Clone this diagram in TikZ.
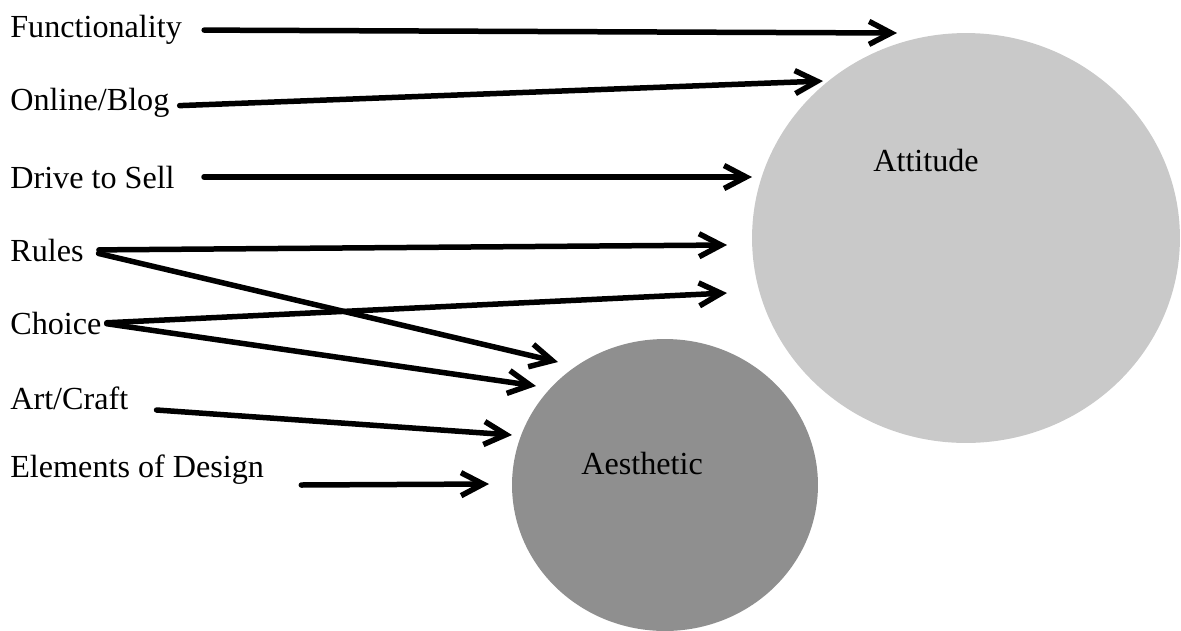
\documentclass[tikz,border=0pt]{standalone}
\usepackage{fontspec}
\setmainfont{Liberation Serif}
\usetikzlibrary{arrows.meta,shapes.geometric}
\definecolor{grisclair}{HTML}{C9C9C9}
\definecolor{grisfonce}{HTML}{8F8F8F}
\begin{document}
\begin{tikzpicture}[x=0.02cm, y=-0.02cm]
			\tikzset{etiq/.style={anchor=west, inner sep=0pt, font=\fontsize{18.3}{20}\selectfont},
			bulle/.style={ellipse, draw=none, inner sep=0pt},
			fleche/.style={-{Straight Barb[length=0.44cm, width=0.46cm]}, line width=0.11cm, line cap=round, line join=round}};

			\useasboundingbox (0,0) rectangle (1181,630);

			\node[bulle, fill=grisclair, minimum width=8.56cm, minimum height=8.2cm] (att) at (966, 238) {};
			\node[bulle, fill=grisfonce, minimum width=6.12cm, minimum height=5.84cm] (aes) at (665, 485) {};
			\node[etiq] (tatt) at (873, 160) {Attitude};
			\node[etiq] (taes) at (581, 463) {Aesthetic};

			\node[etiq] (fon) at (10,  30) {Functionality};
			\node[etiq] (onl) at (10, 103) {Online/Blog};
			\node[etiq] (dri) at (10, 177) {Drive to Sell};
			\node[etiq] (reg) at (10, 250) {Rules};
			\node[etiq] (cho) at (10, 323) {Choice};
			\node[etiq] (art) at (10, 398) {Art/Craft};
			\node[etiq] (ele) at (10, 470) {Elements of Design};

			\coordinate (p1) at (897,  33);
			\coordinate (p2) at (823,  81);
			\coordinate (p3) at (752, 177);
			\coordinate (p4) at (727, 245);
			\coordinate (p5) at (727, 293);
			\coordinate (p6) at (558, 362);
			\coordinate (p7) at (536, 386);
			\coordinate (p8) at (512, 435);
			\coordinate (p9) at (489, 484);

			\draw[fleche, shorten <=0.44cm] (fon.east) to (p1);
			\draw[fleche, shorten <=0.2cm]  ([yshift=-0.06cm]onl.east) to (p2);
			\draw[fleche, shorten <=0.58cm] (dri.east) to (p3);
			\draw[fleche, shorten <=0.3cm]  (reg.east) to (p4);
			\draw[fleche, shorten <=0.3cm]  (reg.east) to (p6);
			\draw[fleche, shorten <=0.1cm]  (cho.east) to (p5);
			\draw[fleche, shorten <=0.1cm]  (cho.east) to (p7);
			\draw[fleche] ([xshift=0.56cm, yshift=-0.24cm]art.east) to (p8);
			\draw[fleche] ([xshift=0.74cm, yshift=-0.3cm]ele.east) to (p9);

		\end{tikzpicture}
\end{document}
